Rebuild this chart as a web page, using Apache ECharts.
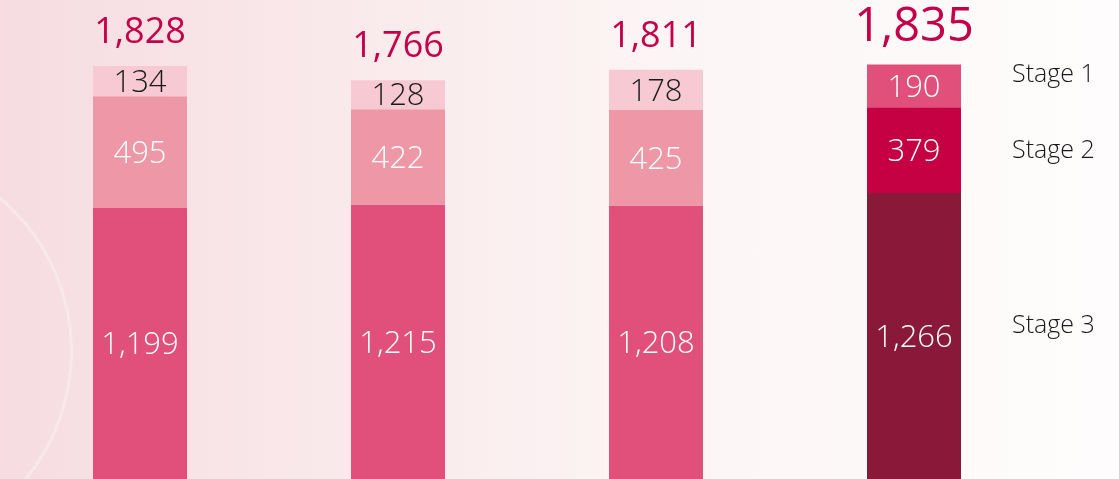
<!DOCTYPE html>
<html>
<head>
<meta charset="utf-8">
<script src="https://cdn.jsdelivr.net/npm/echarts@6/dist/echarts.min.js"></script>
<style>
  html, body { margin: 0; padding: 0; }
  #chart {
    width: 1119px; height: 479px;
    background: linear-gradient(90deg, #f6dce1 0%, #f9e9eb 30%, #fcf5f5 60%, #fefcfc 100%);
  }
</style>
</head>
<body>
<div id="chart"></div>
<script>
var categories = ['P1', 'P2', 'P3', 'P4'];
var stage1 = [134, 128, 178, 190];
var stage2 = [495, 422, 425, 379];
var stage3 = [1199, 1215, 1208, 1266];
var totals = [1828, 1766, 1811, 1835];
var stageNames = ['Stage 1', 'Stage 2', 'Stage 3'];

var chart = echarts.init(document.getElementById('chart'), null, { renderer: 'canvas' });
var font = '"Open Sans", sans-serif';

function fmt(v) {
    return v.toLocaleString('en-US');
}

// bars 1-3 in pink tones, last bar in dark tones
function items(values, colors, lastColor, textColors) {
    return values.map(function (v, i) {
        var last = i === values.length - 1;
        return {
            value: v,
            itemStyle: { color: last ? lastColor : colors },
            label: { color: last ? '#ffffff' : textColors }
        };
    });
}

var innerLabel = {
    show: true, position: 'inside', offset: [0, 2],
    fontFamily: font, fontWeight: 300, fontSize: 31,
    formatter: function (p) { return fmt(p.value); }
};

var option = {
    animation: false,
    grid: { left: 11, right: 76, top: 0, bottom: 0 },
    xAxis: { type: 'category', data: categories, show: false },
    yAxis: { type: 'value', min: 0, max: 2120, show: false },
    series: [
        {
            name: stageNames[2],
            type: 'bar',
            stack: 'total',
            barWidth: 94,
            label: innerLabel,
            data: items(stage3, '#e0507b', '#8a1939', '#ffffff')
        },
        {
            name: stageNames[1],
            type: 'bar',
            stack: 'total',
            barWidth: 94,
            label: innerLabel,
            data: items(stage2, '#ee97a6', '#c50043', '#ffffff')
        },
        {
            name: stageNames[0],
            type: 'bar',
            stack: 'total',
            barWidth: 94,
            label: innerLabel,
            data: items(stage1, '#f7c9d3', '#e0507b', '#1a1a1a')
        },
        {
            name: 'Total',
            type: 'line',
            symbol: 'circle',
            symbolSize: 2,
            showSymbol: true,
            clip: false,
            z: 10,
            itemStyle: { color: 'rgba(0,0,0,0)', borderWidth: 0 },
            lineStyle: { width: 0, color: 'rgba(0,0,0,0)' },
            label: {
                show: true, position: 'top', distance: 14,
                fontFamily: font, fontWeight: 500, fontSize: 36, color: '#c4004a',
                formatter: function (p) { return fmt(p.value); }
            },
            labelLayout: { hideOverlap: false },
            data: totals.map(function (v, i) {
                return i === totals.length - 1
                    ? { value: v, label: { fontSize: 47, distance: 12 } }
                    : v;
            })
        }
    ],
    graphic: [
        {
            type: 'circle', left: -330, top: 150, silent: true, z: -1,
            shape: { r: 200 },
            style: { fill: 'rgba(255,255,255,0)', stroke: 'rgba(255,255,255,0.3)', lineWidth: 3 }
        },
        { type: 'text', left: 1012, top: 62, style: { text: stageNames[0], font: '300 25px ' + font, fill: '#1a1a1a' } },
        { type: 'text', left: 1012, top: 138, style: { text: stageNames[1], font: '300 25px ' + font, fill: '#1a1a1a' } },
        { type: 'text', left: 1012, top: 313, style: { text: stageNames[2], font: '300 25px ' + font, fill: '#1a1a1a' } }
    ]
};

chart.setOption(option);
window.addEventListener('resize', function () {
    chart.resize();
});
</script>
</body>
</html>
